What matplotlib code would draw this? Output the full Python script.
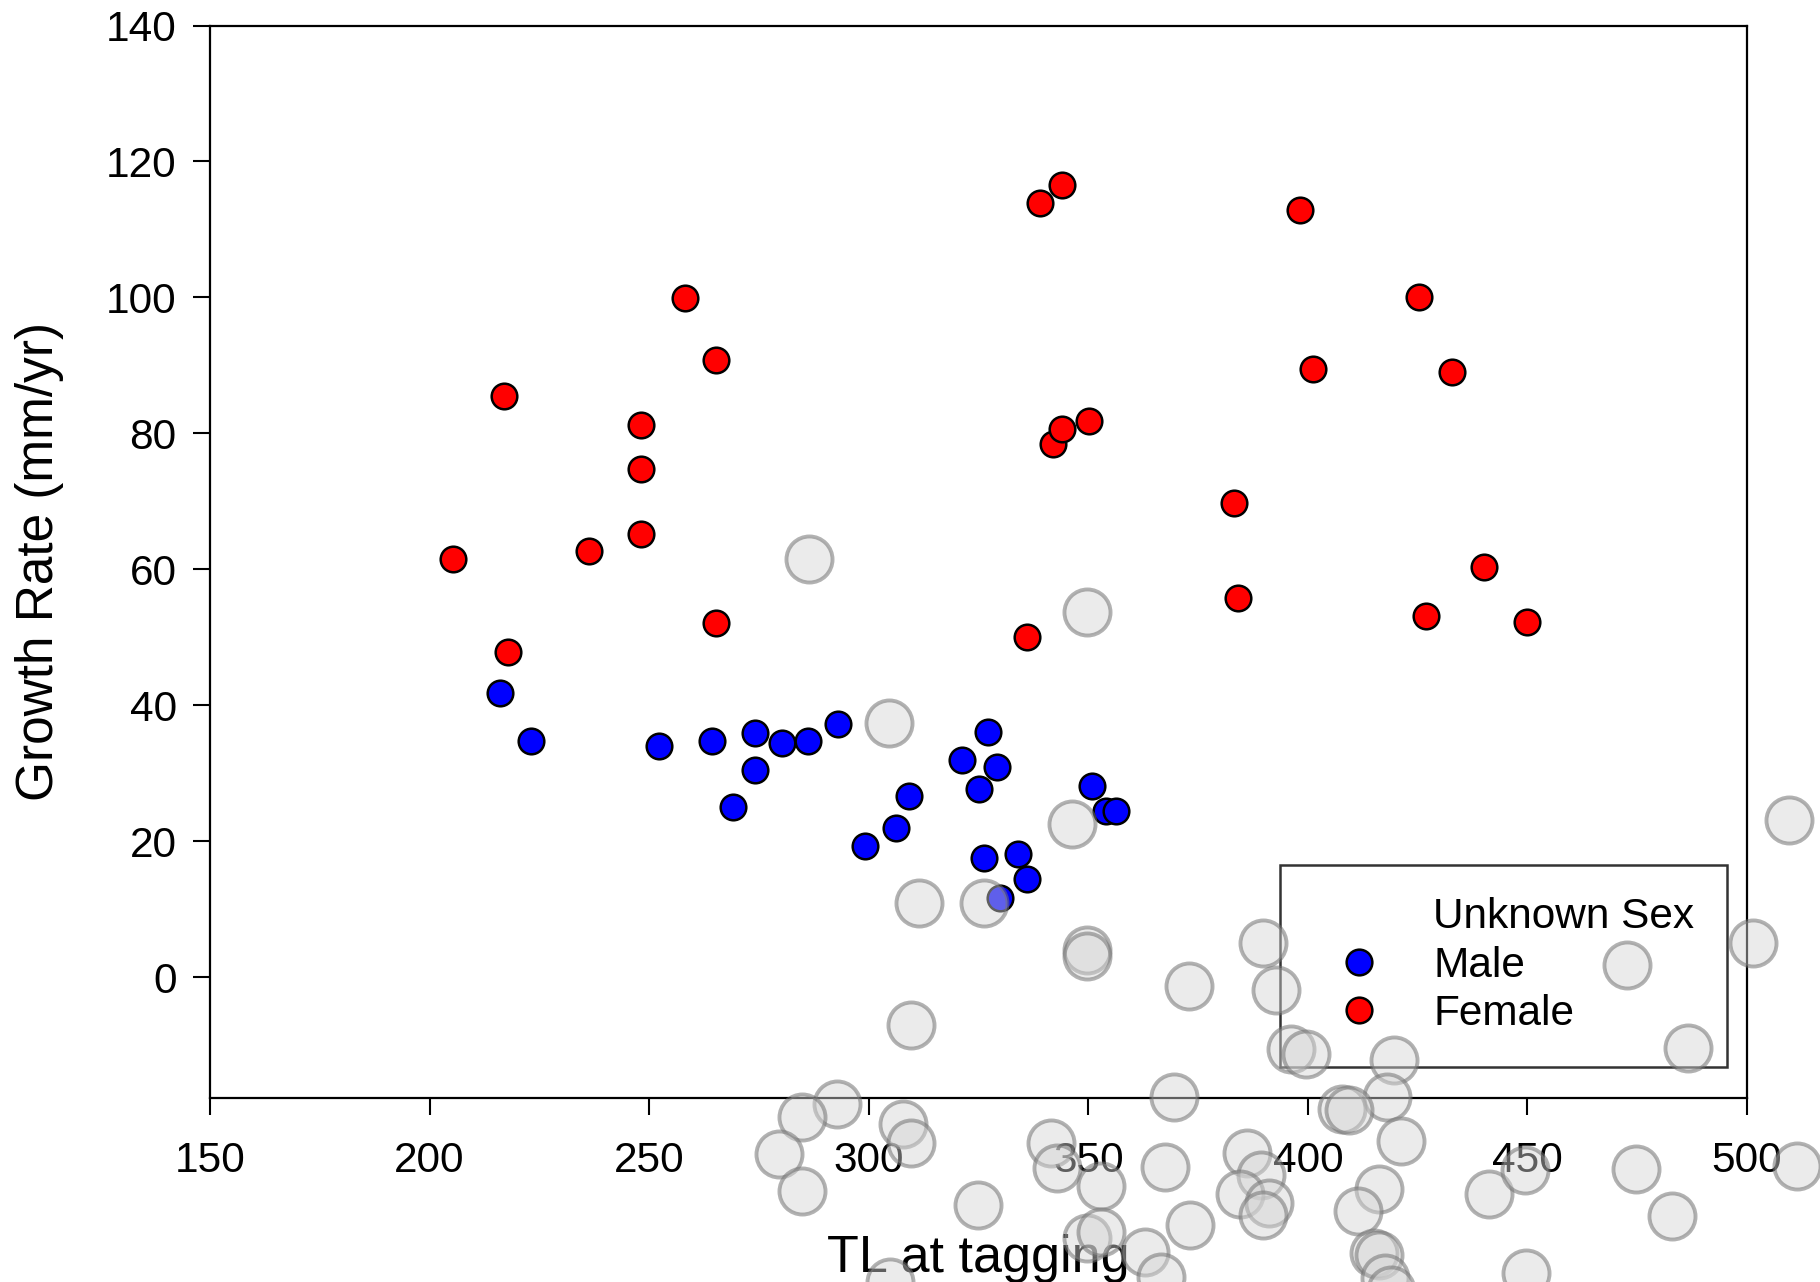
import matplotlib
matplotlib.use("Agg")
import matplotlib.pyplot as plt
from matplotlib.lines import Line2D

plt.rcParams['font.family'] = ['Liberation Sans', 'DejaVu Sans']

# Female (red)
female_x = [205.3, 216.9, 217.9, 236.2, 248.1, 248.1, 248.1, 258.1, 265.3, 265.3,
            336.1, 339.0, 344.0, 341.9, 344.0, 350.1, 383.2, 384.2, 398.2, 401.1,
            425.2, 427.0, 432.9, 440.0, 450.0]
female_y = [61.5, 85.5, 47.8, 62.7, 81.3, 74.8, 65.2, 99.9, 90.8, 52.1,
            50.0, 113.9, 116.6, 78.5, 80.6, 81.8, 69.7, 55.8, 112.9, 89.5,
            100.1, 53.1, 89.0, 60.4, 52.2]

# Male (blue)
male_x = [216.1, 223.2, 252.3, 264.2, 274.2, 274.2, 269.2, 280.2, 286.2, 293.1,
          299.1, 306.1, 309.1, 321.2, 325.2, 327.1, 329.1, 326.2, 330.0, 334.1,
          336.1, 350.9, 354.1, 356.2]
male_y = [41.8, 34.8, 34.0, 34.8, 36.0, 30.5, 25.0, 34.4, 34.7, 37.2,
          19.3, 22.0, 26.7, 32.0, 27.7, 36.1, 30.9, 17.5, 11.6, 18.1,
          14.4, 28.1, 24.5, 24.5]

# Unknown sex (grey)
unknown_x = [286.4, 349.7, 304.7, 346.4, 509.6, 311.4, 326.2, 349.6, 349.8, 389.7,
             501.3, 472.7, 373.0, 392.7, 309.7, 396.2, 399.6, 419.5, 486.5, 369.5,
             418.0, 407.8, 409.4, 292.8, 284.7, 307.9, 309.7, 279.6, 284.7, 341.4,
             342.9, 352.8, 324.8, 367.5, 386.2, 389.4, 384.5, 391.1, 389.8, 373.2,
             349.6, 353.0, 363.0, 366.6, 304.8, 421.3, 416.2, 411.5, 415.0, 416.3,
             417.5, 419.0, 441.3, 449.5, 474.7, 482.9, 511.3, 449.6]
unknown_y = [61.5, 53.7, 37.4, 22.5, 23.2, 10.9, 10.9, 4.0, 3.1, 5.0,
             5.1, 1.8, -1.3, -1.9, -7.0, -10.5, -11.3, -12.2, -10.4, -17.6,
             -17.6, -19.3, -19.5, -18.7, -20.6, -21.5, -24.3, -26.0, -31.4, -24.4,
             -28.1, -30.7, -33.5, -27.9, -25.9, -29.1, -31.8, -33.2, -35.0, -36.4,
             -38.4, -37.4, -40.4, -44.0, -44.8, -24.0, -31.2, -34.3, -40.5, -40.8,
             -44.2, -46.0, -31.8, -28.3, -28.2, -35.1, -27.8, -43.5]

x_ticks = [150, 200, 250, 300, 350, 400, 450, 500]
y_ticks = [0, 20, 40, 60, 80, 100, 120, 140]

fig = plt.figure(figsize=(18.2, 12.82), dpi=100)
ax = fig.add_axes([0.1154, 0.1435, 0.9599 - 0.1154, 0.9801 - 0.1435])

ax.scatter(unknown_x, unknown_y, s=1100, facecolor=(0.83, 0.83, 0.83, 0.45),
           edgecolor=(0.45, 0.45, 0.45, 0.55), linewidths=2.8, clip_on=False, zorder=4)
ax.scatter(male_x, male_y, s=340, facecolor='#0000FF', edgecolor='black',
           linewidths=1.8, zorder=3)
ax.scatter(female_x, female_y, s=340, facecolor='#FF0000', edgecolor='black',
           linewidths=1.8, zorder=3)

ax.set_xlim(150, 500)
ax.set_ylim(-17.75, 140)
ax.set_xticks(x_ticks)
ax.set_yticks(y_ticks)
ax.tick_params(axis='both', direction='out', length=12, width=1.5, labelsize=30.5,
               top=False, right=False)
ax.tick_params(axis='x', pad=19)
ax.tick_params(axis='y', pad=12)
for sp in ax.spines.values():
    sp.set_linewidth(1.6)

ax.set_xlabel('TL at tagging', fontsize=37.5, labelpad=38)
ax.set_ylabel('Growth Rate (mm/yr)', fontsize=37, labelpad=30)

handles = [
    Line2D([], [], linestyle='none', marker='o', markersize=0, markerfacecolor='none',
           markeredgecolor='none'),
    Line2D([], [], linestyle='none', marker='o', markersize=18.5, markerfacecolor='#0000FF',
           markeredgecolor='black', markeredgewidth=1.8),
    Line2D([], [], linestyle='none', marker='o', markersize=18.5, markerfacecolor='#FF0000',
           markeredgecolor='black', markeredgewidth=1.8),
]
leg = ax.legend(handles, ['Unknown Sex', 'Male', 'Female'], loc='lower right',
                bbox_to_anchor=(0.987, 0.029), fontsize=30.5, frameon=True,
                fancybox=False, borderpad=0.77, handlelength=2.18, handletextpad=0.66,
                labelspacing=0.2, borderaxespad=0)
frame = leg.get_frame()
frame.set_edgecolor('black')
frame.set_linewidth(1.8)
frame.set_facecolor('none')
leg.set_zorder(2)

fig.savefig('out.png', dpi=100)
